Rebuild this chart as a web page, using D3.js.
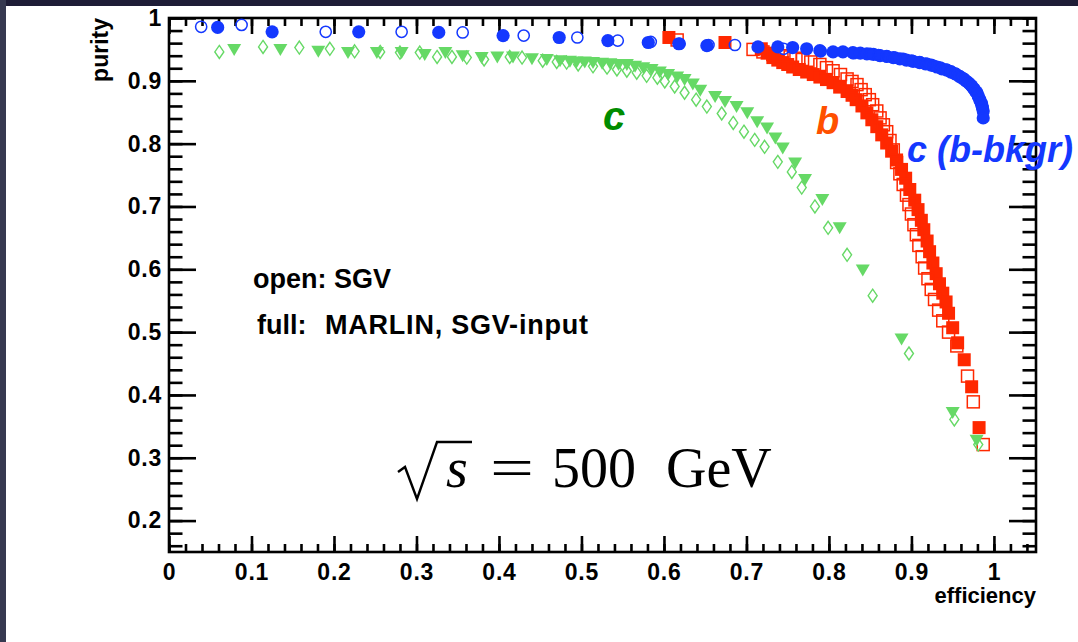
<!DOCTYPE html>
<html>
<head>
<meta charset="utf-8">
<title>purity vs efficiency, sqrt(s) = 500 GeV</title>
<script src="https://d3js.org/d3.v7.min.js"></script>
<style>
  body { margin: 0; background: #fff; }
  svg text { font-family: "Liberation Sans", Arial, sans-serif; }
</style>
</head>
<body>
<svg id="chart" width="1078" height="642"></svg>
<script>

// axis ticks
var xTicks = [0, 0.1, 0.2, 0.3, 0.4, 0.5, 0.6, 0.7, 0.8, 0.9, 1];
var xTickLabels = ["0", "0.1", "0.2", "0.3", "0.4", "0.5", "0.6", "0.7", "0.8", "0.9", "1"];
var yTicks = [0.2, 0.3, 0.4, 0.5, 0.6, 0.7, 0.8, 0.9, 1];
var yTickLabels = ["0.2", "0.3", "0.4", "0.5", "0.6", "0.7", "0.8", "0.9", "1"];

// [efficiency, purity]
// c tagging with b background -- full: MARLIN, open: SGV
var cbFull = [[0.059,0.985],[0.125,0.978],[0.230,0.978],[0.327,0.977],[0.405,0.972],[0.473,0.969],
  [0.532,0.964],[0.581,0.961],[0.618,0.959],[0.652,0.956],[0.714,0.954],[0.738,0.954],[0.756,0.953],
  [0.773,0.951],[0.789,0.948],[0.805,0.946],[0.817,0.946],[0.829,0.945],[0.838,0.944],[0.846,0.943],
  [0.854,0.942],[0.862,0.940],[0.870,0.939],[0.878,0.937],[0.886,0.935],[0.894,0.933],[0.902,0.931],
  [0.910,0.929],[0.917,0.927],[0.924,0.925],[0.931,0.922],[0.937,0.919],[0.943,0.917],[0.948,0.914],
  [0.953,0.911],[0.958,0.907],[0.962,0.904],[0.966,0.900],[0.970,0.896],[0.973,0.892],[0.976,0.887],
  [0.979,0.882],[0.981,0.876],[0.983,0.870],[0.985,0.864],[0.986,0.858],[0.987,0.852],[0.987,0.841]];
var cbOpen = [[0.039,0.986],[0.088,0.989],[0.190,0.978],[0.282,0.978],[0.356,0.977],[0.430,0.972],
  [0.495,0.969],[0.544,0.964],[0.584,0.962],[0.619,0.959],[0.654,0.957],[0.686,0.957],[0.745,0.951],
  [0.790,0.947],[0.830,0.944],[0.850,0.943],[0.860,0.941],[0.870,0.939],[0.880,0.937],[0.890,0.935],
  [0.900,0.932],[0.910,0.930],[0.919,0.927],[0.927,0.924],[0.935,0.921],[0.942,0.918],[0.948,0.915],
  [0.954,0.911],[0.959,0.907],[0.964,0.903],[0.968,0.898],[0.972,0.893],[0.975,0.888],[0.978,0.882],
  [0.981,0.875],[0.983,0.868],[0.985,0.862],[0.986,0.857]];

// b tagging
var bFull = [[0.606,0.969],[0.674,0.961],[0.718,0.951],[0.725,0.944],[0.732,0.937],[0.738,0.933],
  [0.744,0.929],[0.750,0.926],[0.756,0.922],[0.764,0.918],[0.773,0.914],[0.781,0.910],[0.789,0.906],
  [0.797,0.902],[0.805,0.897],[0.813,0.890],[0.822,0.883],[0.828,0.877],[0.833,0.870],[0.840,0.860],
  [0.846,0.849],[0.852,0.838],[0.858,0.827],[0.864,0.814],[0.870,0.801],[0.876,0.788],[0.882,0.774],
  [0.888,0.759],[0.893,0.745],[0.898,0.727],[0.904,0.710],[0.908,0.695],[0.912,0.678],[0.915,0.663],
  [0.919,0.645],[0.922,0.628],[0.926,0.610],[0.930,0.593],[0.934,0.577],[0.938,0.562],[0.942,0.548],
  [0.945,0.530],[0.950,0.507],[0.956,0.483],[0.964,0.456],[0.973,0.413],[0.982,0.348]];
var bOpen = [[0.616,0.965],[0.708,0.950],[0.720,0.946],[0.732,0.942],[0.743,0.940],[0.753,0.938],
  [0.760,0.936],[0.768,0.934],[0.778,0.930],[0.789,0.926],[0.797,0.921],[0.805,0.916],[0.814,0.910],
  [0.822,0.903],[0.828,0.899],[0.834,0.894],[0.839,0.886],[0.844,0.878],[0.849,0.870],[0.853,0.862],
  [0.858,0.852],[0.862,0.841],[0.866,0.830],[0.870,0.819],[0.874,0.805],[0.878,0.790],[0.882,0.770],
  [0.886,0.752],[0.890,0.735],[0.894,0.718],[0.897,0.703],[0.900,0.688],[0.903,0.671],[0.906,0.655],
  [0.909,0.638],[0.913,0.620],[0.916,0.602],[0.920,0.585],[0.924,0.568],[0.928,0.552],[0.933,0.535],
  [0.938,0.518],[0.945,0.500],[0.955,0.478],[0.968,0.430],[0.975,0.389],[0.987,0.321]];

// c tagging
var cFull = [[0.079,0.950],[0.135,0.950],[0.181,0.947],[0.217,0.945],[0.252,0.945],[0.282,0.945],
  [0.310,0.942],[0.335,0.945],[0.356,0.940],[0.379,0.937],[0.398,0.938],[0.417,0.938],[0.440,0.935],
  [0.458,0.934],[0.474,0.932],[0.486,0.931],[0.494,0.930],[0.504,0.930],[0.514,0.929],[0.525,0.928],
  [0.535,0.927],[0.545,0.926],[0.555,0.926],[0.565,0.923],[0.575,0.921],[0.585,0.918],[0.595,0.914],
  [0.605,0.910],[0.616,0.906],[0.625,0.902],[0.635,0.895],[0.644,0.885],[0.662,0.875],[0.674,0.867],
  [0.688,0.859],[0.701,0.849],[0.713,0.835],[0.725,0.825],[0.735,0.809],[0.744,0.793],[0.759,0.769],
  [0.771,0.743],[0.792,0.711],[0.813,0.666],[0.841,0.599],[0.888,0.489],[0.950,0.372],[0.979,0.328]];
var cOpen = [[0.061,0.946],[0.114,0.954],[0.158,0.953],[0.195,0.951],[0.225,0.947],[0.256,0.946],
  [0.280,0.945],[0.304,0.945],[0.325,0.938],[0.343,0.938],[0.361,0.937],[0.382,0.934],[0.413,0.938],
  [0.428,0.937],[0.453,0.932],[0.470,0.930],[0.482,0.929],[0.496,0.926],[0.514,0.923],[0.531,0.921],
  [0.543,0.918],[0.555,0.916],[0.567,0.913],[0.579,0.908],[0.592,0.905],[0.601,0.899],[0.613,0.891],
  [0.625,0.881],[0.639,0.870],[0.652,0.859],[0.670,0.848],[0.684,0.833],[0.697,0.819],[0.710,0.806],
  [0.722,0.795],[0.738,0.771],[0.755,0.755],[0.767,0.730],[0.783,0.700],[0.799,0.666],[0.822,0.623],
  [0.853,0.558],[0.897,0.466],[0.952,0.361],[0.981,0.321]];

var blue = "#1438ff", red = "#ff2800", green = "#66d966";

var svg = d3.select("#chart");

// slide border
svg.append("rect").attr("x", 0).attr("y", 0).attr("width", 1078).attr("height", 6).attr("fill", "#1e1d36");
svg.append("rect").attr("x", 0).attr("y", 0).attr("width", 6).attr("height", 642).attr("fill", "#363950");

var frame = {left: 169, right: 1036, top: 18, bottom: 552};
var x = d3.scaleLinear().domain([0, 1.051]).range([frame.left, frame.right]);
var y = d3.scaleLinear().domain([0.15, 1]).range([frame.bottom, frame.top]);

var xMinor = d3.range(0, 1.051, 0.02);
var yMinor = d3.range(0.16, 1.0001, 0.02);

function styleAxis(g) {
  g.select(".domain").remove();
  g.selectAll(".tick line").attr("stroke", "#000").attr("stroke-width", 2.6);
  g.selectAll(".tick text").attr("fill", "#000").style("font-size", "23px")
    .style("font-weight", "bold").style("letter-spacing", "0.8px");
}

// bottom
svg.append("g").attr("transform", "translate(0," + frame.bottom + ")")
  .call(d3.axisBottom(x).tickValues(xMinor).tickSize(-8).tickFormat(""))
  .call(styleAxis);
svg.append("g").attr("transform", "translate(0," + frame.bottom + ")")
  .call(d3.axisBottom(x).tickValues(xTicks).tickSizeInner(-16).tickSizeOuter(0).tickPadding(12)
    .tickFormat(function(d, i) { return xTickLabels[i]; }))
  .call(styleAxis);
// top
svg.append("g").attr("transform", "translate(0," + frame.top + ")")
  .call(d3.axisTop(x).tickValues(xMinor).tickSize(-8).tickFormat(""))
  .call(styleAxis);
svg.append("g").attr("transform", "translate(0," + frame.top + ")")
  .call(d3.axisTop(x).tickValues(xTicks).tickSize(-16).tickFormat(""))
  .call(styleAxis);
// left
svg.append("g").attr("transform", "translate(" + frame.left + ",0)")
  .call(d3.axisLeft(y).tickValues(yMinor).tickSize(-13.5).tickFormat(""))
  .call(styleAxis);
svg.append("g").attr("transform", "translate(" + frame.left + ",0)")
  .call(d3.axisLeft(y).tickValues(yTicks).tickSizeInner(-27).tickSizeOuter(0).tickPadding(7)
    .tickFormat(function(d, i) { return yTickLabels[i]; }))
  .call(styleAxis);
// right
svg.append("g").attr("transform", "translate(" + frame.right + ",0)")
  .call(d3.axisRight(y).tickValues(yMinor).tickSize(-13.5).tickFormat(""))
  .call(styleAxis);
svg.append("g").attr("transform", "translate(" + frame.right + ",0)")
  .call(d3.axisRight(y).tickValues(yTicks).tickSize(-27).tickFormat(""))
  .call(styleAxis);

svg.append("rect").attr("x", frame.left).attr("y", frame.top)
  .attr("width", frame.right - frame.left).attr("height", frame.bottom - frame.top)
  .attr("fill", "none").attr("stroke", "#000").attr("stroke-width", 2.6);

// axis titles
svg.append("text").attr("transform", "translate(108," + frame.top + ") rotate(-90)")
  .attr("text-anchor", "end").style("font-size", "23px").style("font-weight", "bold").text("purity");
svg.append("text").attr("x", frame.right).attr("y", 603).attr("text-anchor", "end")
  .style("font-size", "22px").style("font-weight", "bold").text("efficiency");

// markers
function pos(d) { return "translate(" + x(d[0]) + "," + y(d[1]) + ")"; }

var plot = svg.append("g");

plot.selectAll(".bf").data(bFull).enter().append("rect").attr("class", "bf")
  .attr("x", function(d) { return x(d[0]) - 6.5; }).attr("y", function(d) { return y(d[1]) - 6.5; })
  .attr("width", 13).attr("height", 13).attr("fill", red);
plot.selectAll(".bo").data(bOpen).enter().append("rect").attr("class", "bo")
  .attr("x", function(d) { return x(d[0]) - 6; }).attr("y", function(d) { return y(d[1]) - 6; })
  .attr("width", 12).attr("height", 12).attr("fill", "none").attr("stroke", red).attr("stroke-width", 1.5);

plot.selectAll(".co").data(cOpen).enter().append("path").attr("class", "co")
  .attr("transform", pos).attr("d", "M0,-6.5L4.5,0L0,6.5L-4.5,0Z")
  .attr("fill", "none").attr("stroke", green).attr("stroke-width", 1.4);
plot.selectAll(".cf").data(cFull).enter().append("path").attr("class", "cf")
  .attr("transform", pos).attr("d", "M-7,-5.5L7,-5.5L0,6.5Z").attr("fill", green);

plot.selectAll(".cbf").data(cbFull).enter().append("circle").attr("class", "cbf")
  .attr("cx", function(d) { return x(d[0]); }).attr("cy", function(d) { return y(d[1]); })
  .attr("r", 6.6).attr("fill", blue);
plot.selectAll(".cbo").data(cbOpen).enter().append("circle").attr("class", "cbo")
  .attr("cx", function(d) { return x(d[0]); }).attr("cy", function(d) { return y(d[1]); })
  .attr("r", 5.6).attr("fill", "none").attr("stroke", blue).attr("stroke-width", 1.5);

// curve labels
function label(t, px, py, size, col) {
  svg.append("text").attr("x", px).attr("y", py).style("font-size", size + "px")
    .style("font-weight", "bold").style("font-style", "italic").attr("fill", col).text(t);
}
label("c", 603, 130, 40, "#008c00");
label("b", 816, 134, 38, "#ff5000");
label("c (b-bkgr)", 907, 162, 36, blue);

// marker legend
var leg = svg.append("g").style("font-size", "27px").style("font-weight", "bold");
leg.append("text").attr("x", 253).attr("y", 288).text("open: SGV");
var full = leg.append("text").attr("y", 334);
full.append("tspan").attr("x", 257).text("full:");
full.append("tspan").attr("x", 325).attr("textLength", 263).text("MARLIN, SGV-input");

// sqrt(s) = 500 GeV
var tex = svg.append("g").attr("fill", "#000");
tex.append("path").attr("d", "M398,472L405,467L417,499L437,442L472,442")
  .attr("fill", "none").attr("stroke", "#000").attr("stroke-width", 2.4).attr("stroke-linejoin", "miter");
tex.append("text").attr("x", 446).attr("y", 487).style("font-size", "56px").style("font-style", "italic")
  .style("font-family", "'Liberation Serif', serif").text("s");
tex.append("text").attr("x", 490).attr("y", 487).style("font-size", "56px")
  .style("font-family", "'Liberation Serif', serif").attr("textLength", 44)
  .attr("lengthAdjust", "spacingAndGlyphs").text("=");
tex.append("text").attr("x", 552).attr("y", 487).style("font-size", "56px")
  .style("font-family", "'Liberation Serif', serif").text("500");
tex.append("text").attr("x", 666).attr("y", 487).style("font-size", "56px")
  .style("font-family", "'Liberation Serif', serif").text("GeV");

</script>
</body>
</html>
